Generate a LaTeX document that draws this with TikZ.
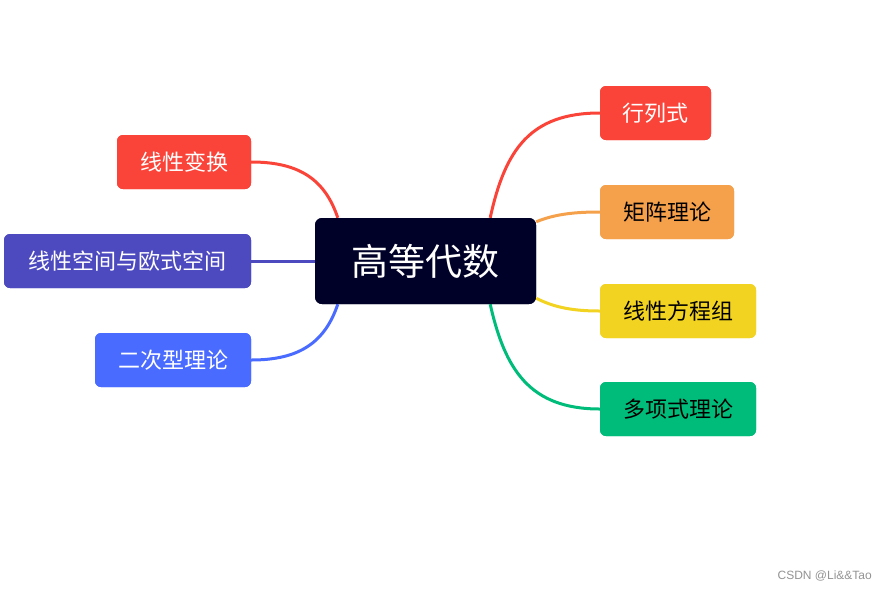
\documentclass[tikz,border=0pt]{standalone}
\usepackage{fontspec}
\newfontfamily\cjk{Noto Sans CJK SC}
\newfontfamily\wm{Liberation Sans}
\usetikzlibrary{calc}
\definecolor{cdark}{HTML}{000128}
\definecolor{cred}{HTML}{FA4439}
\definecolor{corange}{HTML}{F5A04B}
\definecolor{cyellow}{HTML}{F2D322}
\definecolor{cgreen}{HTML}{00BC7B}
\definecolor{cindigo}{HTML}{4D4ABF}
\definecolor{cblue}{HTML}{4A6BFF}
\tikzset{
  topic/.style={rounded corners=6pt, inner sep=0pt, minimum height=54pt,
    font=\cjk\fontsize{22}{26}\selectfont},
  central/.style={rounded corners=7pt, inner sep=0pt, minimum width=221pt,
    minimum height=86pt, fill=cdark, text=white,
    font=\cjk\fontsize{37}{42}\selectfont},
  link/.style={line width=3pt}
}
\begin{document}
\begin{tikzpicture}[x=1pt,y=-1pt]
\useasboundingbox (0,0) rectangle (888,590);
% node placement (drawn again on top of the connectors below)
\node[central] (c) at (425.5,261) {高等代数};
\node[topic, fill=cred, text=white, minimum width=111pt] (r1) at (655.5,113) {行列式};
\node[topic, fill=corange, text=black, minimum width=134pt] (r2) at (667,212) {矩阵理论};
\node[topic, fill=cyellow, text=black, minimum width=156pt] (r3) at (678,311) {线性方程组};
\node[topic, fill=cgreen, text=black, minimum width=156pt] (r4) at (678,409) {多项式理论};
\node[topic, fill=cred, text=white, minimum width=134pt] (l1) at (184,162) {线性变换};
\node[topic, fill=cindigo, text=white, minimum width=247pt] (l2) at (127.5,261) {线性空间与欧式空间};
\node[topic, fill=cblue, text=white, minimum width=156pt] (l3) at (173,360) {二次型理论};
\coordinate (s1) at ([xshift=-46pt]c.north east);
\coordinate (s2) at ([yshift=-4pt]c.north east);
\coordinate (s3) at ([yshift=6pt]c.south east);
\coordinate (s4) at ([xshift=-46pt]c.south east);
\coordinate (t1) at ([xshift=23pt]c.north west);
\coordinate (t3) at ([xshift=23pt]c.south west);
\draw[link, cred] (s1) .. controls (505,150) and (530,113) .. (r1.west);
\draw[link, corange] (s2) .. controls (555,214) and (575,212) .. (r2.west);
\draw[link, cyellow] (s3) .. controls (555,308) and (575,311) .. (r3.west);
\draw[link, cgreen] (s4) .. controls (505,370) and (530,409) .. (r4.west);
\draw[link, cred] (t1) .. controls (325,180) and (300,162) .. (l1.east);
\draw[link, cindigo] (c.west) -- (l2.east);
\draw[link, cblue] (t3) .. controls (325,342) and (300,360) .. (l3.east);
% redraw nodes on top
\node[central] at (c.center) {高等代数};
\node[topic, fill=cred, text=white, minimum width=111pt] at (r1.center) {行列式};
\node[topic, fill=corange, text=black, minimum width=134pt] at (r2.center) {矩阵理论};
\node[topic, fill=cyellow, text=black, minimum width=156pt] at (r3.center) {线性方程组};
\node[topic, fill=cgreen, text=black, minimum width=156pt] at (r4.center) {多项式理论};
\node[topic, fill=cred, text=white, minimum width=134pt] at (l1.center) {线性变换};
\node[topic, fill=cindigo, text=white, minimum width=247pt] at (l2.center) {线性空间与欧式空间};
\node[topic, fill=cblue, text=white, minimum width=156pt] at (l3.center) {二次型理论};
\node[font=\wm\fontsize{12}{14}\selectfont, text=gray!85, anchor=east, inner sep=0pt] (wmk) at (872,576) {CSDN @Li\&\&Tao};
\end{tikzpicture}
\end{document}
